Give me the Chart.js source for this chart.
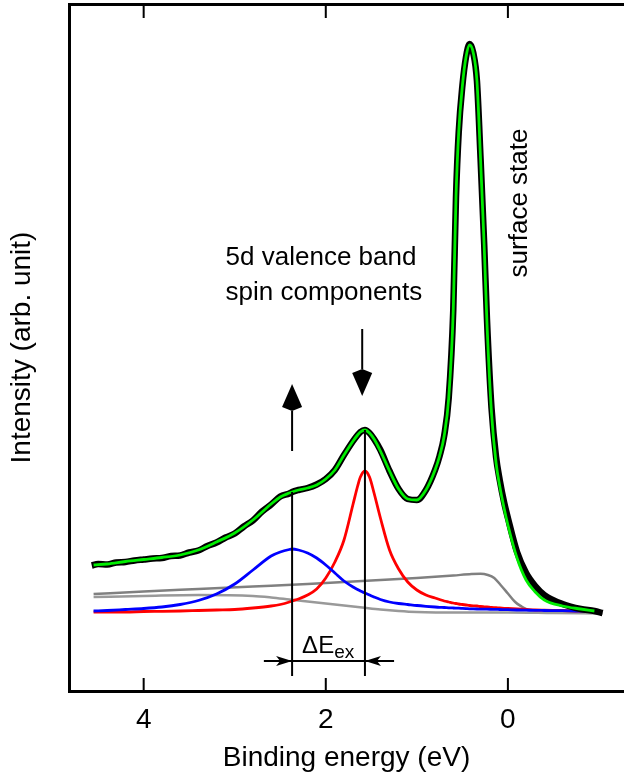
<!DOCTYPE html>
<html>
<head>
<meta charset="utf-8">
<script src="https://cdn.jsdelivr.net/npm/chart.js@4"></script>
<style>
  html, body { margin: 0; padding: 0; background: #fff; }
  #wrap { width: 624px; height: 780px; }
</style>
</head>
<body>
<div id="wrap"><canvas id="chart" width="624" height="780"></canvas></div>
<script>
// binding energy grid (eV) shared by fit and components
const energy = [4.55, 4.4, 4.2, 4.0, 3.8, 3.6, 3.4, 3.2, 3.0, 2.8, 2.6, 2.5, 2.4, 2.37, 2.3, 2.2, 2.1, 2.0, 1.9, 1.8,
  1.7, 1.65, 1.62, 1.57, 1.52, 1.47, 1.4, 1.3, 1.2, 1.1, 1.0, 0.9, 0.8, 0.75, 0.7, 0.65, 0.6, 0.57, 0.54, 0.5,
  0.46, 0.42, 0.38, 0.34, 0.3, 0.26, 0.23, 0.18, 0.13, 0.09, 0.04, 0.0, -0.1, -0.2, -0.3, -0.4, -0.6, -0.8, -0.95];

const fitIntensity = [12.7, 12.8, 13.05, 13.25, 13.45, 13.7, 14.2, 15.0, 15.9, 17.2, 18.8, 19.5, 19.9, 20.0, 20.2, 20.4, 20.7, 21.3, 22.2, 23.7,
  25.1, 25.7, 26.0, 26.2, 25.9, 25.3, 24.1, 22.1, 20.3, 19.3, 19.2, 20.2, 22.2, 23.6, 25.6, 29.4, 38.2, 49.5, 56.0, 60.6,
  63.5, 64.7, 63.9, 61.1, 53.2, 44.5, 36.9, 27.9, 22.9, 20.6, 18.3, 16.7, 13.4, 11.2, 10.0, 9.2, 8.6, 8.3, 8.1];

const spinDown = [8.0, 8.0, 8.0, 8.05, 8.07, 8.1, 8.15, 8.2, 8.25, 8.4, 8.6, 8.75, 9.0, 9.1, 9.3, 9.7, 10.3, 11.4, 13.0, 15.2,
  18.8, 20.6, 21.5, 22.1, 21.5, 19.9, 17.4, 14.2, 12.3, 11.0, 10.2, 9.7, 9.4, 9.25, 9.1, 9.0, 8.9, 8.85, 8.8, 8.75,
  8.7, 8.65, 8.62, 8.6, 8.55, 8.52, 8.5, 8.46, 8.43, 8.4, 8.37, 8.35, 8.3, 8.25, 8.2, 8.18, 8.15, 8.1, 8.1];

const spinUp = [8.1, 8.15, 8.25, 8.35, 8.5, 8.75, 9.15, 9.8, 10.8, 12.2, 13.6, 14.0, 14.25, 14.3, 14.2, 13.9, 13.4, 12.7, 11.9, 11.1,
  10.5, 10.25, 10.1, 9.9, 9.7, 9.5, 9.25, 9.0, 8.85, 8.75, 8.65, 8.57, 8.5, 8.47, 8.45, 8.42, 8.4, 8.39, 8.38, 8.36,
  8.34, 8.32, 8.31, 8.3, 8.29, 8.28, 8.28, 8.27, 8.26, 8.25, 8.24, 8.23, 8.2, 8.18, 8.16, 8.15, 8.13, 8.1, 8.1];

// measured spectrum
const dataEnergy = [4.57, 4.5, 4.4, 4.3, 4.2, 4.1, 4.0, 3.9, 3.8, 3.7, 3.6, 3.5, 3.4, 3.3, 3.2, 3.1, 3.0, 2.9, 2.8, 2.7, 2.6, 2.5, 2.4,
  2.37, 2.3, 2.2, 2.1, 2.0, 1.9, 1.8, 1.7, 1.65, 1.62, 1.57, 1.52, 1.47, 1.4, 1.3, 1.2, 1.1, 1.0, 0.9, 0.8, 0.75, 0.7,
  0.65, 0.6, 0.57, 0.54, 0.5, 0.46, 0.42, 0.38, 0.34, 0.3, 0.26, 0.23, 0.18, 0.13, 0.09, 0.04, 0.0,
  -0.1, -0.2, -0.3, -0.4, -0.6, -0.8, -0.95, -1.04];
const dataIntensity = [12.65, 12.8, 12.75, 12.95, 13.0, 13.15, 13.25, 13.35, 13.4, 13.6, 13.65, 13.95, 14.15, 14.6, 14.95, 15.45, 15.85, 16.55, 17.15, 18.05, 18.75, 19.55, 19.85,
  20.0, 20.2, 20.4, 20.75, 21.3, 22.2, 23.7, 25.1, 25.7, 26.0, 26.2, 25.9, 25.3, 24.2, 22.1, 20.3, 19.3, 19.2, 20.2, 22.2, 23.6, 25.6,
  29.4, 38.2, 49.5, 56.0, 60.6, 63.5, 64.8, 63.9, 61.1, 53.3, 44.7, 37.3, 28.4, 23.5, 21.2, 18.9, 17.4,
  14.0, 11.9, 10.6, 9.7, 8.8, 8.3, 8.1, 7.9];

// backgrounds
const bgRiseEnergy = [4.55, 4.0, 3.4, 2.8, 2.2, 1.6, 1.0, 0.6, 0.4, 0.3, 0.22, 0.15, 0.08, 0.0, -0.08, -0.15, -0.22];
const bgRise = [9.8, 10.05, 10.3, 10.55, 10.8, 11.1, 11.4, 11.65, 11.8, 11.82, 11.7, 11.4, 10.7, 9.85, 9.0, 8.55, 8.2];
const bgFallEnergy = [4.55, 4.0, 3.4, 2.8, 2.6, 2.4, 2.2, 2.0, 1.8, 1.6, 1.4, 1.2, 1.0, 0.5, 0.0, -0.5, -1.04];
const bgFall = [9.5, 9.6, 9.7, 9.6, 9.45, 9.25, 9.05, 8.85, 8.65, 8.45, 8.25, 8.1, 8.0, 7.95, 7.95, 7.9, 7.85];

const tickValues = [4, 2, 0];

// annotation anchors (eV, intensity)
const peakLines = [{ x: 2.37, top: 20.0 }, { x: 1.57, top: 26.2 }];
const lineFoot = 1.6;
const upArrow = { x: 2.37, from: 24.1, to: 30.8 };
const downArrow = { x: 1.60, from: 36.3, to: 29.6 };
const exArrow = { y: 3.1, leftStart: 2.68, rightStart: 1.25 };

const FONT = "'Liberation Sans', Arial, Helvetica, sans-serif";

function pts(xs, ys) {
  return xs.map((x, i) => ({ x: x, y: ys[i] }));
}

function curve(label, xs, ys, color, width, order) {
  return {
    label: label,
    data: pts(xs, ys),
    borderColor: color,
    borderWidth: width,
    pointRadius: 0,
    fill: false,
    cubicInterpolationMode: 'monotone',
    borderJoinStyle: 'round',
    order: order
  };
}

const decorations = {
  id: 'decorations',
  afterDraw(chart) {
    const ctx = chart.ctx;
    const xs = chart.scales.x;
    const ys = chart.scales.y;
    const area = chart.chartArea;
    ctx.save();
    ctx.strokeStyle = '#000';
    ctx.fillStyle = '#000';

    // inward ticks on bottom and top
    ctx.lineWidth = 2;
    tickValues.forEach(v => {
      const px = xs.getPixelForValue(v);
      ctx.beginPath();
      ctx.moveTo(px, area.bottom);
      ctx.lineTo(px, area.bottom - 13);
      ctx.moveTo(px, area.top);
      ctx.lineTo(px, area.top + 14);
      ctx.stroke();
    });

    // vertical lines through the spin components
    peakLines.forEach(p => {
      const px = xs.getPixelForValue(p.x);
      ctx.beginPath();
      ctx.moveTo(px, ys.getPixelForValue(p.top));
      ctx.lineTo(px, ys.getPixelForValue(lineFoot));
      ctx.stroke();
    });

    // spin arrows
    function vArrow(a) {
      const px = xs.getPixelForValue(a.x);
      const y0 = ys.getPixelForValue(a.from);
      const y1 = ys.getPixelForValue(a.to);
      const dir = y1 < y0 ? -1 : 1;
      const base = y1 - dir * 27;
      ctx.beginPath();
      ctx.moveTo(px, y0);
      ctx.lineTo(px, base);
      ctx.stroke();
      ctx.beginPath();
      ctx.moveTo(px, y1);
      ctx.lineTo(px - 10, base + dir * 4);
      ctx.lineTo(px, base);
      ctx.lineTo(px + 10, base + dir * 4);
      ctx.closePath();
      ctx.fill();
    }
    vArrow(upArrow);
    vArrow(downArrow);

    // exchange splitting arrows
    const ay = ys.getPixelForValue(exArrow.y);
    const xl = xs.getPixelForValue(exArrow.leftStart);
    const xr = xs.getPixelForValue(exArrow.rightStart);
    const p1 = xs.getPixelForValue(peakLines[0].x);
    const p2 = xs.getPixelForValue(peakLines[1].x);
    ctx.beginPath();
    ctx.moveTo(xl, ay);
    ctx.lineTo(xr, ay);
    ctx.stroke();
    [[p1, -1], [p2, 1]].forEach(([tip, s]) => {
      ctx.beginPath();
      ctx.moveTo(tip, ay);
      ctx.lineTo(tip + s * 16, ay - 5);
      ctx.lineTo(tip + s * 12, ay);
      ctx.lineTo(tip + s * 16, ay + 5);
      ctx.closePath();
      ctx.fill();
    });

    // labels
    ctx.textBaseline = 'alphabetic';
    ctx.textAlign = 'left';
    ctx.font = '24px ' + FONT;
    const ex0 = xs.getPixelForValue(2.26);
    const eby = ys.getPixelForValue(3.9);
    ctx.fillText('\u0394E', ex0, eby);
    const w = ctx.measureText('\u0394E').width;
    ctx.font = '19px ' + FONT;
    ctx.fillText('ex', ex0 + w, eby + 5);

    ctx.font = '26px ' + FONT;
    const tx = xs.getPixelForValue(3.10);
    ctx.fillText('5d valence band', tx, ys.getPixelForValue(42.7));
    ctx.fillText('spin components', tx, ys.getPixelForValue(39.2));

    ctx.translate(xs.getPixelForValue(-0.21), ys.getPixelForValue(48.9));
    ctx.rotate(-Math.PI / 2);
    ctx.textAlign = 'center';
    ctx.fillText('surface state', 0, 0);
    ctx.restore();
  }
};

new Chart(document.getElementById('chart'), {
  type: 'line',
  data: {
    datasets: [
      curve('Fit', energy, fitIntensity, '#00ee00', 2.8, 0),
      curve('Data', dataEnergy, dataIntensity, '#000000', 6.5, 1),
      curve('Spin up', energy, spinUp, '#0000ff', 2.8, 2),
      curve('Spin down', energy, spinDown, '#ff0000', 2.8, 3),
      curve('Background 1', bgRiseEnergy, bgRise, '#808080', 2.5, 4),
      curve('Background 2', bgFallEnergy, bgFall, '#999999', 2.5, 5)
    ]
  },
  options: {
    responsive: false,
    animation: false,
    devicePixelRatio: 1,
    events: [],
    layout: { padding: 0 },
    plugins: { legend: { display: false }, tooltip: { enabled: false } },
    scales: {
      x: {
        type: 'linear',
        position: 'bottom',
        reverse: true,
        min: -1.275,
        max: 4.82,
        afterBuildTicks: s => { s.ticks = tickValues.map(v => ({ value: v })); },
        afterFit: s => { s.height = 89; },
        grid: { display: false, drawTicks: false },
        border: { display: true, color: '#000', width: 3 },
        ticks: { color: '#000', padding: 15, font: { family: FONT, size: 28, lineHeight: 1 } },
        title: { display: true, text: 'Binding energy (eV)', color: '#000',
          font: { family: FONT, size: 28, lineHeight: 1 }, padding: { top: 0, bottom: 8 } }
      },
      x2: {
        type: 'linear',
        position: 'top',
        reverse: true,
        min: -1.275,
        max: 4.82,
        afterFit: s => { s.height = 4; },
        grid: { display: false, drawTicks: false },
        border: { display: true, color: '#000', width: 3 },
        ticks: { display: false }
      },
      y: {
        type: 'linear',
        min: 0.1,
        max: 68.8,
        afterFit: s => { s.width = 69; },
        grid: { display: false, drawTicks: false },
        border: { display: true, color: '#000', width: 3 },
        ticks: { display: false },
        title: { display: true, text: 'Intensity (arb. unit)', color: '#000',
          font: { family: FONT, size: 28, lineHeight: 1 }, padding: { top: 8, bottom: 0 } }
      }
    }
  },
  plugins: [decorations]
});
</script>
</body>
</html>
